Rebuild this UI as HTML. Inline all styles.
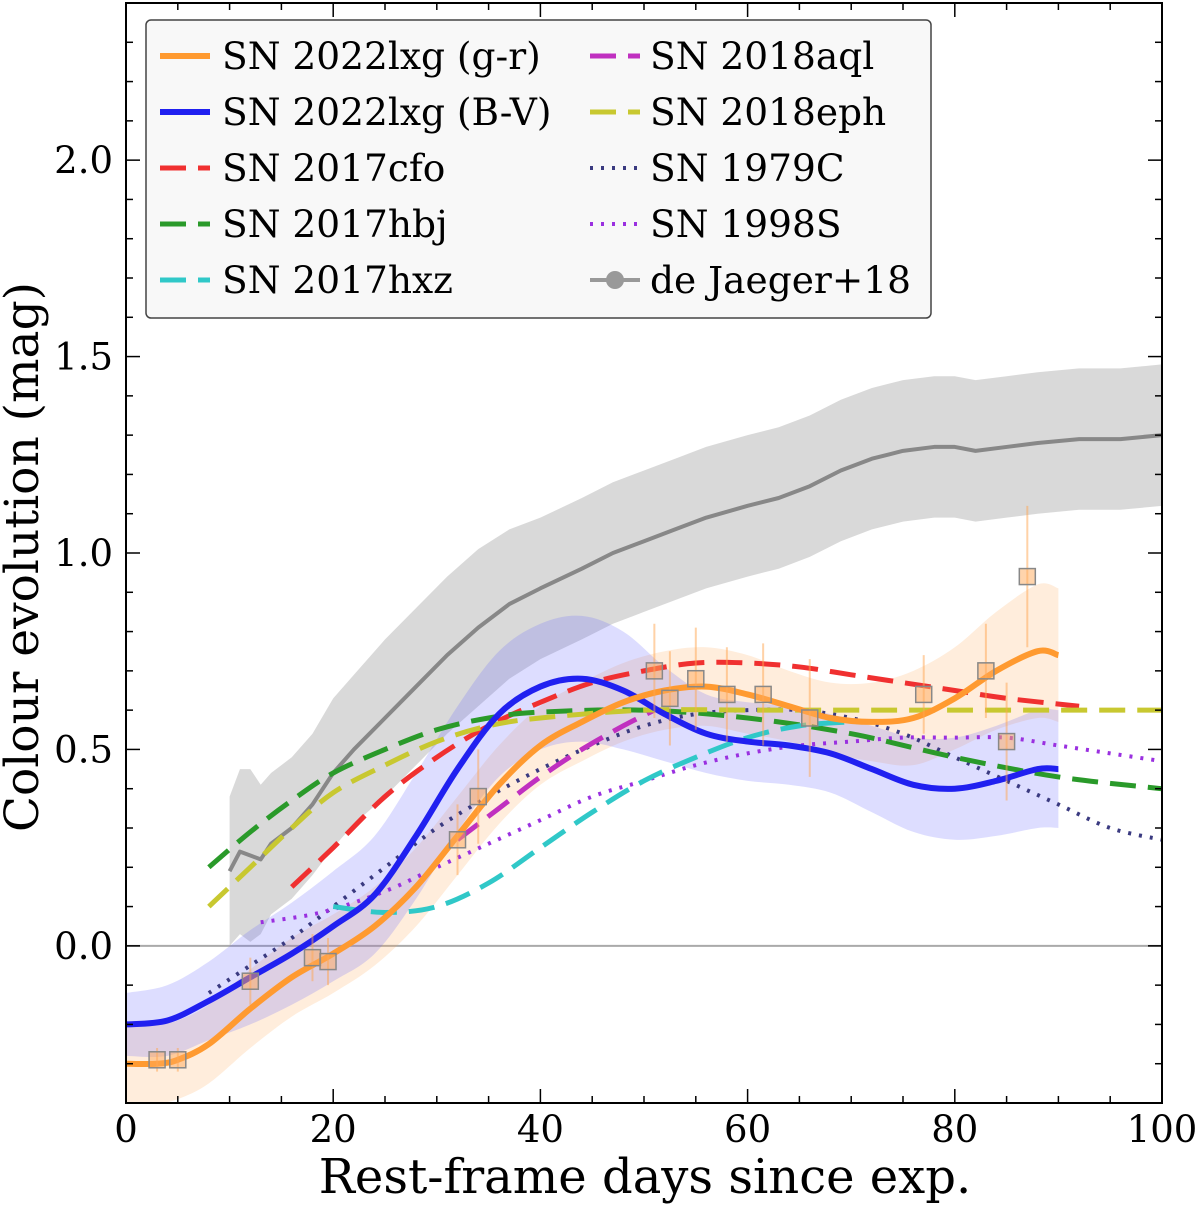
<!DOCTYPE html>
<html><head><meta charset="utf-8"><style>
body{margin:0;background:#fff;}
svg{display:block;font-family:"DejaVu Serif","Liberation Serif",serif;}
</style></head><body>
<svg id="chart" width="1200" height="1205" xmlns="http://www.w3.org/2000/svg">
<g id="bands"></g>
<g id="lines"></g>
<g id="points"></g>
<g id="axes"></g>
<g id="legend"></g>
</svg>
<script>
const xTicks=[0,20,40,60,80,100];
const yTicks=[0.0,0.5,1.0,1.5,2.0];
const djX=[10,11,12,13,14,16,18,20,22,25,28,31,34,37,40,44,47,50,53,56,60,63,66,69,72,75,78,80,82,85,88,92,96,100];
const djY=[0.19,0.24,0.23,0.22,0.26,0.30,0.36,0.44,0.50,0.58,0.66,0.74,0.81,0.87,0.91,0.96,1.00,1.03,1.06,1.09,1.12,1.14,1.17,1.21,1.24,1.26,1.27,1.27,1.26,1.27,1.28,1.29,1.29,1.30];
const djErr=[0.19,0.21,0.22,0.19,0.18,0.18,0.18,0.19,0.19,0.2,0.2,0.2,0.2,0.19,0.18,0.18,0.18,0.18,0.18,0.18,0.18,0.18,0.18,0.18,0.18,0.18,0.18,0.18,0.18,0.18,0.18,0.18,0.18,0.18];
const grX=[0,3,5,8,12,16,20,24,28,32,36,40,44,48,52,56,60,64,68,72,76,80,84,88,90];
const grY=[-0.30,-0.30,-0.29,-0.25,-0.16,-0.08,-0.02,0.05,0.15,0.28,0.41,0.51,0.57,0.62,0.65,0.66,0.64,0.61,0.58,0.57,0.58,0.63,0.70,0.75,0.74];
const grErr=[0.1,0.1,0.1,0.1,0.1,0.1,0.1,0.1,0.1,0.1,0.1,0.1,0.1,0.1,0.1,0.1,0.1,0.09,0.09,0.1,0.12,0.13,0.15,0.17,0.17];
const bvX=[0,4,8,12,16,20,24,28,32,36,40,44,48,52,56,60,64,68,72,76,80,84,88,90];
const bvY=[-0.20,-0.19,-0.14,-0.08,-0.02,0.05,0.13,0.28,0.45,0.59,0.66,0.68,0.65,0.59,0.54,0.52,0.51,0.49,0.45,0.41,0.40,0.42,0.45,0.45];
const bvErr=[0.08,0.09,0.1,0.12,0.13,0.14,0.15,0.16,0.16,0.16,0.16,0.16,0.15,0.12,0.1,0.1,0.1,0.1,0.11,0.12,0.13,0.14,0.15,0.15];
const ptX=[3,5,12,18,19.5,32,34,51,52.5,55,58,61.5,66,77,83,85,87];
const ptY=[-0.29,-0.29,-0.09,-0.03,-0.04,0.27,0.38,0.70,0.63,0.68,0.64,0.64,0.58,0.64,0.70,0.52,0.94];
const ptErr=[0.03,0.03,0.06,0.06,0.06,0.09,0.12,0.12,0.12,0.13,0.12,0.13,0.15,0.1,0.12,0.15,0.18];
const cfoX=[16,20,25,30,35,40,45,50,55,60,65,70,75,80,85,92];
const cfoY=[0.15,0.25,0.38,0.48,0.56,0.62,0.67,0.70,0.72,0.72,0.71,0.69,0.67,0.65,0.63,0.61];
const hbjX=[8,12,16,20,25,30,35,40,50,60,70,80,90,100];
const hbjY=[0.2,0.29,0.37,0.44,0.50,0.55,0.58,0.595,0.60,0.58,0.54,0.48,0.43,0.40];
const hxzX=[20,25,30,35,40,45,50,55,60,65,70,73];
const hxzY=[0.10,0.085,0.10,0.16,0.25,0.34,0.42,0.48,0.53,0.56,0.57,0.57];
const aqlX=[32,36,40,44,48,51];
const aqlY=[0.27,0.35,0.43,0.50,0.56,0.60];
const ephX=[8,12,16,20,25,30,35,40,50,60,70,80,100];
const ephY=[0.10,0.20,0.30,0.39,0.46,0.52,0.56,0.58,0.60,0.60,0.60,0.60,0.60];
const c79X=[8,12,16,20,25,30,35,40,45,50,55,60,65,70,75,80,85,90,95,100];
const c79Y=[-0.12,-0.05,0.02,0.10,0.20,0.30,0.38,0.45,0.51,0.56,0.59,0.60,0.60,0.58,0.54,0.48,0.42,0.36,0.30,0.27];
const s98X=[13,18,22,26,30,35,40,45,50,55,60,65,70,75,80,85,90,95,100];
const s98Y=[0.06,0.08,0.11,0.15,0.20,0.26,0.32,0.38,0.42,0.46,0.49,0.51,0.52,0.53,0.53,0.53,0.51,0.49,0.47];

const X0=126,X1=1162,Y0=3,Y1=1103,xmin=0,xmax=100,ymin=-0.4,ymax=2.4;
const sx=v=>X0+(v-xmin)/(xmax-xmin)*(X1-X0);
const sy=v=>Y1-(v-ymin)/(ymax-ymin)*(Y1-Y0);
const NS="http://www.w3.org/2000/svg";
function mk(tag,attrs,parent){const e=document.createElementNS(NS,tag);for(const k in attrs)e.setAttribute(k,attrs[k]);parent.appendChild(e);return e;}
function smooth(pts){ // Catmull-Rom -> bezier path
  let d='M'+pts[0][0]+','+pts[0][1];
  for(let i=0;i<pts.length-1;i++){
    const p0=pts[i-1]||pts[i],p1=pts[i],p2=pts[i+1],p3=pts[i+2]||p2;
    const c1=[p1[0]+(p2[0]-p0[0])/6,p1[1]+(p2[1]-p0[1])/6];
    const c2=[p2[0]-(p3[0]-p1[0])/6,p2[1]-(p3[1]-p1[1])/6];
    d+='C'+c1[0]+','+c1[1]+' '+c2[0]+','+c2[1]+' '+p2[0]+','+p2[1];
  }
  return d;
}
const clipDefs=mk('defs',{},document.getElementById('chart'));
const cp=mk('clipPath',{id:'clip'},clipDefs);
mk('rect',{x:X0,y:Y0,width:X1-X0,height:Y1-Y0},cp);
const bands=document.getElementById('bands'),lines=document.getElementById('lines'),points=document.getElementById('points');
bands.setAttribute('clip-path','url(#clip)');lines.setAttribute('clip-path','url(#clip)');
const zl=mk('line',{x1:X0,x2:X1,y1:sy(0),y2:sy(0),stroke:'#aaa','stroke-width':2},bands);


function band(xs,ys,es,fill,name,sm){
  const up=xs.map((x,i)=>[sx(x),sy(ys[i]+es[i])]);
  const lo=xs.map((x,i)=>[sx(x),sy(ys[i]-es[i])]).reverse();
  let d=sm?smooth(up)+smooth(lo).replace('M','L'):'M'+up.concat(lo).map(p=>p.join(',')).join('L');
  const p=mk('path',{d:d+'Z',fill:fill},bands);
  
  
}
function line(xs,ys,col,w,dash,name,sm){
  const pts=xs.map((x,i)=>[sx(x),sy(ys[i])]);
  const d=sm?smooth(pts):'M'+pts.map(p=>p.join(',')).join('L');
  const p=mk('path',{d:d,fill:'none',stroke:col,'stroke-width':w,'stroke-dasharray':dash,'stroke-linejoin':'round'},lines);
  
  
}
band(djX,djY,djErr,'rgba(160,160,160,0.4)','dejaeger-band',false);
band(grX,grY,grErr,'rgba(255,165,80,0.2)','gr-band',true);
band(bvX,bvY,bvErr,'rgba(100,100,255,0.22)','bv-band',true);
line(djX,djY,'#888',4,'none','dejaeger-line',false);
line(c79X,c79Y,'#3a3a80',4,'3,8','sn1979c-line',true);
line(s98X,s98Y,'#9a30e0',4,'3,8','sn1998s-line',true);
line(cfoX,cfoY,'#f03030',5,'26,12','sn2017cfo-line',true);
line(hbjX,hbjY,'#2a9a2a',5,'26,12','sn2017hbj-line',true);
line(hxzX,hxzY,'#30c8c8',5,'26,12','sn2017hxz-line',true);
line(aqlX,aqlY,'#c030c0',5,'26,12','sn2018aql-line',true);
line(ephX,ephY,'#c8c830',5,'26,12','sn2018eph-line',true);
line(bvX,bvY,'#2020f0',6,'none','bv-line',true);
line(grX,grY,'#ff9a30',6,'none','gr-line',true);
ptX.forEach((x,i)=>{
  const e=mk('line',{x1:sx(x),x2:sx(x),y1:sy(ptY[i]-ptErr[i]),y2:sy(ptY[i]+ptErr[i]),stroke:'rgba(255,165,80,0.5)','stroke-width':2},points);
  
  
  const r=mk('rect',{x:sx(x)-8,y:sy(ptY[i])-8,width:16,height:16,fill:'rgba(255,170,90,0.5)',stroke:'#888','stroke-width':1.5},points);
  
  
});
const ax=document.getElementById('axes');
const fr=mk('rect',{x:X0,y:Y0,width:X1-X0,height:Y1-Y0,fill:'none',stroke:'#000','stroke-width':2},ax);


for(let v=0;v<=100;v+=5){const L=v%20===0?14:7;
  mk('line',{x1:sx(v),x2:sx(v),y1:Y1,y2:Y1-L,stroke:'#000','stroke-width':1.5},ax);
  mk('line',{x1:sx(v),x2:sx(v),y1:Y0,y2:Y0+L,stroke:'#000','stroke-width':1.5},ax);}
for(let k=-4;k<=24;k++){const v=k/10;const L=k%5===0?14:7;
  mk('line',{x1:X0,x2:X0+L,y1:sy(v),y2:sy(v),stroke:'#000','stroke-width':1.5},ax);
  mk('line',{x1:X1,x2:X1-L,y1:sy(v),y2:sy(v),stroke:'#000','stroke-width':1.5},ax);}
xTicks.forEach(v=>{const t=mk('text',{x:sx(v),y:1142,'font-size':37,'text-anchor':'middle'},ax);t.textContent=v;
  
  });
yTicks.forEach(v=>{const t=mk('text',{x:113,y:sy(v)+13,'font-size':37,'text-anchor':'end'},ax);t.textContent=v.toFixed(1);
  
  });
const xl=mk('text',{x:645,y:1193,'font-size':48,'text-anchor':'middle'},ax);xl.textContent='Rest-frame days since exp.';


const yl=mk('text',{x:0,y:0,'font-size':47,'text-anchor':'middle',transform:'translate(38,557) rotate(-90)'},ax);yl.textContent='Colour evolution (mag)';


const lg=document.getElementById('legend');
const lb=mk('rect',{x:146,y:20,width:785,height:298,rx:5,fill:'rgba(248,248,248,0.95)',stroke:'#444','stroke-width':1.5},lg);


const legItems=[
 [0,'SN 2022lxg (g-r)','#ff9a30','none',6],[0,'SN 2022lxg (B-V)','#2020f0','none',6],
 [0,'SN 2017cfo','#f03030','26,12',5],[0,'SN 2017hbj','#2a9a2a','26,12',5],[0,'SN 2017hxz','#30c8c8','26,12',5],
 [1,'SN 2018aql','#c030c0','26,12',5],[1,'SN 2018eph','#c8c830','26,12',5],[1,'SN 1979C','#3a3a80','3,8',4],
 [1,'SN 1998S','#9a30e0','3,8',4],[1,'de Jaeger+18','#999','none',4]];
let rows=[0,0];
legItems.forEach(it=>{const c=it[0],r=rows[c]++;const y=56+r*56;const lx=c?590:160,tx=c?650:222;
  const g=mk('g',{},lg);
  
  
  mk('line',{x1:lx,x2:lx+50,y1:y,y2:y,stroke:it[2],'stroke-width':it[4],'stroke-dasharray':it[3]},g);
  if(it[1]==='de Jaeger+18')mk('circle',{cx:lx+25,cy:y,r:9,fill:'#999'},g);
  const t=mk('text',{x:tx,y:y+13,'font-size':37.5},g);t.textContent=it[1];});
</script>
</body></html>
